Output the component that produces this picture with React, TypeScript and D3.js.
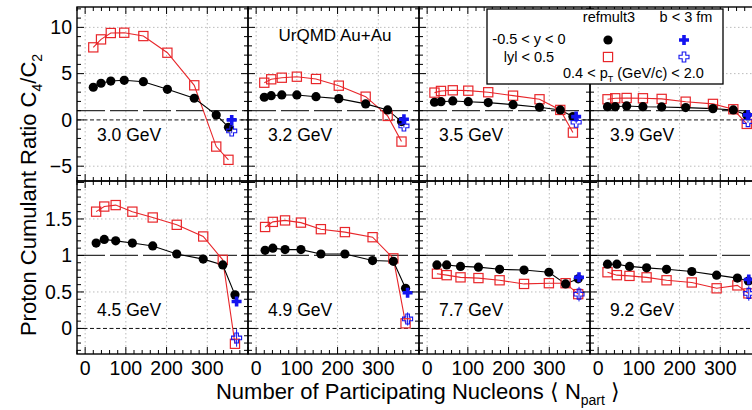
import React from "react";
import * as d3 from "d3";

const energies = ["3.0 GeV", "3.2 GeV", "3.5 GeV", "3.9 GeV", "4.5 GeV", "4.9 GeV", "7.7 GeV", "9.2 GeV"];

const npart = [
  [20, 39, 63, 96, 143, 202, 268, 322, 352],
  [20, 37, 63, 100, 147, 203, 269, 323, 357],
  [18, 34, 63, 101, 150, 211, 276, 327, 358],
  [23, 42, 70, 110, 156, 215, 282, 332, 365],
  [27, 47, 75, 116, 166, 225, 290, 338, 368],
  [22, 41, 71, 110, 159, 218, 286, 337, 367],
  [24, 48, 82, 126, 178, 238, 299, 340, 371],
  [23, 46, 77, 119, 168, 230, 291, 342, 369],
];

const ratioRefmultRap = [
  [3.53, 3.96, 4.2, 4.28, 4.13, 3.31, 2.34, 0.54, -0.79],
  [2.45, 2.62, 2.7, 2.7, 2.51, 2.3, 1.73, 1.08, -0.18],
  [1.91, 1.97, 2.05, 1.97, 1.87, 1.65, 1.37, 1.08, 0.36],
  [1.43, 1.43, 1.51, 1.43, 1.4, 1.33, 1.22, 1.08, 0.54],
  [1.17, 1.22, 1.2, 1.17, 1.13, 1.02, 0.95, 0.87, 0.46],
  [1.07, 1.1, 1.08, 1.08, 1.02, 1.02, 0.93, 0.92, 0.55],
  [0.87, 0.87, 0.85, 0.84, 0.81, 0.8, 0.77, 0.61, 0.68],
  [0.88, 0.88, 0.85, 0.83, 0.81, 0.78, 0.73, 0.69, 0.65],
];

const ratioRefmultSym = [
  [7.84, 8.7, 9.39, 9.42, 9.06, 7.26, 3.74, -2.88, -4.31],
  [4.02, 4.39, 4.56, 4.67, 4.42, 3.7, 2.51, 0.43, -2.34],
  [2.95, 3.13, 3.2, 3.16, 2.99, 2.62, 2.23, 1.08, -1.37],
  [2.23, 2.34, 2.37, 2.34, 2.27, 1.97, 1.73, 1.15, -0.43],
  [1.6, 1.67, 1.69, 1.6, 1.52, 1.42, 1.26, 0.94, -0.21],
  [1.39, 1.46, 1.48, 1.45, 1.36, 1.32, 1.25, 0.96, 0.07],
  [0.75, 0.73, 0.7, 0.69, 0.66, 0.61, 0.62, 0.62, 0.47],
  [0.77, 0.73, 0.72, 0.7, 0.66, 0.63, 0.55, 0.59, 0.48],
];

const bcutNpart = [360, 363, 366, 368, 372, 372, 373, 370];
const bcutRap = [0.0, 0.07, 0.36, 0.54, 0.37, 0.49, 0.7, 0.67];
const bcutRapErr = [0.15, 0.12, 0.1, 0.1, 0.04, 0.03, 0.05, 0.05];
const bcutSym = [-1.19, -0.65, -0.25, -0.18, -0.13, 0.13, 0.47, 0.48];
const bcutSymErr = [0.25, 0.2, 0.15, 0.12, 0.12, 0.09, 0.1, 0.1];

const topYTicks = [-5, 0, 5, 10];
const botYTicks = [0, 0.5, 1, 1.5];
const xTicks = [0, 100, 200, 300];

const W = 752;
const H = 410;
const FONT = "'Liberation Sans', Arial, Helvetica, sans-serif";
const RED = "#e8262a";
const BLUE = "#1414f0";

const panelLeft = 77;
const panelW = 171;
const rows = [
  { top: 7, bottom: 181, domain: [-6.6, 12.2], major: 5, minor: 1 },
  { top: 181, bottom: 354, domain: [-0.35, 2.02], major: 0.5, minor: 0.1 },
];

function plusPath(cx: number, cy: number, s: number, t: number) {
  const a = s / 2, b = t / 2;
  return `M${cx - b},${cy - a}H${cx + b}V${cy - b}H${cx + a}V${cy + b}H${cx + b}V${cy + a}H${cx - b}V${cy + b}H${cx - a}V${cy - b}H${cx - b}Z`;
}

function Panel({ idx }: { idx: number }) {
  const row = idx < 4 ? 0 : 1;
  const col = idx % 4;
  const R = rows[row];
  const x0 = panelLeft + col * panelW;
  const x = d3.scaleLinear().domain([-20, 400]).range([x0, x0 + panelW]);
  const y = d3.scaleLinear().domain(R.domain).range([R.bottom, R.top]);
  const majors = row === 0 ? topYTicks : botYTicks;
  const minorY = d3.range(Math.ceil(R.domain[0] / R.minor) * R.minor, R.domain[1], R.minor).map((v) => +v.toFixed(3));
  const minorX = d3.range(-20, 401, 20);
  const clipId = `clip${idx}`;
  const line = d3.line<[number, number]>().x((d) => x(d[0])).y((d) => y(d[1]));
  const blk: [number, number][] = npart[idx].map((n, i) => [n, ratioRefmultRap[idx][i]]);
  const red: [number, number][] = npart[idx].map((n, i) => [n, ratioRefmultSym[idx][i]]);
  const isMajorY = (v: number) => Math.abs(v / R.major - Math.round(v / R.major)) < 1e-6;
  const isMajorX = (v: number) => v % 100 === 0;
  const bx = x(bcutNpart[idx]);
  return (
    <g>
      <defs>
        <clipPath id={clipId}>
          <rect x={x0} y={R.top} width={panelW} height={R.bottom - R.top} />
        </clipPath>
      </defs>
      <g clipPath={`url(#${clipId})`}>
        {xTicks.map((t) => (
          <line key={"gx" + t} x1={x(t)} x2={x(t)} y1={R.top} y2={R.bottom} stroke="#bbb" strokeWidth={1} strokeDasharray="1.5,2.5" />
        ))}
        {majors.filter((t) => t !== 0 && t !== 1).map((t) => (
          <line key={"gy" + t} x1={x0} x2={x0 + panelW} y1={y(t)} y2={y(t)} stroke="#bbb" strokeWidth={1} strokeDasharray="1.5,2.5" />
        ))}
        <line x1={x0} x2={x0 + panelW} y1={y(1)} y2={y(1)} stroke="#333" strokeWidth={1.2} strokeDasharray="28,5" />
        <line x1={x0} x2={x0 + panelW} y1={y(0)} y2={y(0)} stroke="#111" strokeWidth={1} strokeDasharray="4,2.5" />
        <path d={line(red) || ""} fill="none" stroke={RED} strokeWidth={1.1} />
        <path d={line(blk) || ""} fill="none" stroke="#000" strokeWidth={1.1} />
        {/* error bars on b-cut */}
        <line x1={bx} x2={bx} y1={y(bcutRap[idx] - bcutRapErr[idx])} y2={y(bcutRap[idx] + bcutRapErr[idx])} stroke={BLUE} strokeWidth={1} />
        <line x1={bx} x2={bx} y1={y(bcutSym[idx] - bcutSymErr[idx])} y2={y(bcutSym[idx] + bcutSymErr[idx])} stroke={BLUE} strokeWidth={1} />
        {red.map((d, i) => (
          <rect key={"r" + i} x={x(d[0]) - 4.6} y={y(d[1]) - 4.6} width={9.2} height={9.2} fill="none" stroke={RED} strokeWidth={1.2} />
        ))}
        {blk.map((d, i) => (
          <circle key={"b" + i} cx={x(d[0])} cy={y(d[1])} r={4.6} fill="#000" />
        ))}
        <path d={plusPath(bx, y(bcutRap[idx]), 10, 3.6)} fill={BLUE} />
        <path d={plusPath(bx, y(bcutSym[idx]), 10, 3.6)} fill="#fff" fillOpacity={0} stroke={BLUE} strokeWidth={1.1} />
      </g>
      {/* ticks */}
      {minorX.map((t) => {
        const L = isMajorX(t) ? 7 : 4;
        return (
          <g key={"tx" + t}>
            <line x1={x(t)} x2={x(t)} y1={R.bottom} y2={R.bottom - L} stroke="#000" strokeWidth={1} />
            <line x1={x(t)} x2={x(t)} y1={R.top} y2={R.top + L} stroke="#000" strokeWidth={1} />
          </g>
        );
      })}
      {minorY.map((t) => {
        const L = isMajorY(t) ? 7 : 4;
        return (
          <g key={"ty" + t}>
            <line x1={x0} x2={x0 + L} y1={y(t)} y2={y(t)} stroke="#000" strokeWidth={1} />
            <line x1={x0 + panelW} x2={x0 + panelW - L} y1={y(t)} y2={y(t)} stroke="#000" strokeWidth={1} />
          </g>
        );
      })}
      <rect x={x0} y={R.top} width={panelW} height={R.bottom - R.top} fill="none" stroke="#000" strokeWidth={1.4} />
      <text x={x0 + 20} y={row === 0 ? 141 : 316} fontFamily={FONT} fontSize={17.5} fill="#000">
        {energies[idx]}
      </text>
      {col === 0 &&
        majors.map((t) => (
          <text key={"ly" + t} x={x0 - 5} y={y(t)} dy="0.35em" textAnchor="end" fontFamily={FONT} fontSize={19.5} fill="#000">
            {t < 0 ? "\u2212" + Math.abs(t) : String(t)}
          </text>
        ))}
      {row === 1 &&
        xTicks.map((t) => (
          <text key={"lx" + t} x={x(t)} y={375} textAnchor="middle" fontFamily={FONT} fontSize={19.5} fill="#000">
            {t}
          </text>
        ))}
    </g>
  );
}

export default function App() {
  return (
    <svg width={W} height={H} style={{ position: "absolute", left: 0, top: 0, background: "#fff" }}>
      <rect x={0} y={0} width={W} height={H} fill="#fff" />
      {energies.map((_, i) => (
        <Panel key={i} idx={i} />
      ))}
      <text x={335} y={41} textAnchor="middle" fontFamily={FONT} fontSize={17} fill="#000">
        UrQMD Au+Au
      </text>
      {/* legend */}
      <g fontFamily={FONT} fontSize={14.5} fill="#000">
        <rect x={487} y={9} width={236} height={75} fill="#fff" stroke="#000" strokeWidth={1.3} />
        <text x={609} y={22} textAnchor="middle">refmult3</text>
        <text x={686} y={22} textAnchor="middle">b &lt; 3 fm</text>
        <text x={529} y={44} textAnchor="middle">-0.5 &lt; y &lt; 0</text>
        <text x={529} y={62} textAnchor="middle">lyl &lt; 0.5</text>
        <circle cx={608} cy={40} r={4.6} fill="#000" />
        <rect x={603.4} y={52.4} width={9.2} height={9.2} fill="none" stroke={RED} strokeWidth={1.2} />
        <path d={plusPath(684, 40, 10, 3.6)} fill={BLUE} />
        <path d={plusPath(684, 57, 10, 3.6)} fill="none" stroke={BLUE} strokeWidth={1.1} />
        <text x={563} y={78}>
          0.4 &lt; p<tspan fontSize={9} dy={4}>T</tspan>
          <tspan dy={-4}> (GeV/c) &lt; 2.0</tspan>
        </text>
      </g>
      {/* axis titles */}
      <text x={418} y={399} textAnchor="middle" fontFamily={FONT} fontSize={22} fill="#000">
        Number of Participating Nucleons {"\u27E8"} N<tspan fontSize={14} dy={6}>part</tspan>
        <tspan dy={-6}> {"\u27E9"}</tspan>
      </text>
      <text transform="translate(36,195) rotate(-90)" textAnchor="middle" fontFamily={FONT} fontSize={22} fill="#000">
        Proton Cumulant Ratio C<tspan fontSize={14} dy={6}>4</tspan>
        <tspan dy={-6}>/C</tspan>
        <tspan fontSize={14} dy={6}>2</tspan>
      </text>
    </svg>
  );
}
